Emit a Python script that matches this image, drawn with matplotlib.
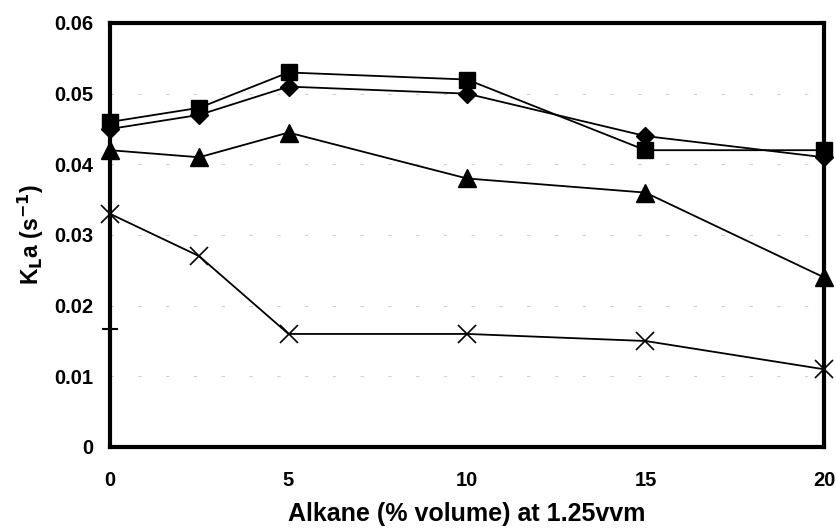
import numpy as np
import matplotlib.pyplot as plt

plt.rcParams['font.family'] = ['Liberation Sans', 'DejaVu Sans']

# Alkane fraction (% volume) and measured KLa values (1/s) at 1.25 vvm
alkane = [0, 2.5, 5, 10, 15, 20]
kla_square = [0.046, 0.048, 0.053, 0.052, 0.042, 0.042]
kla_diamond = [0.045, 0.047, 0.051, 0.050, 0.044, 0.041]
kla_triangle = [0.042, 0.041, 0.0445, 0.038, 0.036, 0.024]
kla_cross = [0.033, 0.027, 0.016, 0.016, 0.015, 0.011]
kla_plus_x = [0]
kla_plus = [0.0167]

fig = plt.figure(figsize=(8.36, 5.30), dpi=100)
ax = fig.add_axes([110/836, 1 - 447/530, (824-110)/836, (447-23)/530])

# faint broken gridlines
for yv in np.arange(0.01, 0.06, 0.01):
    ax.axhline(yv, color='#d0d0d0', lw=0.8, ls=(0, (3, 22)), zorder=0)

kw = dict(color='black', lw=1.3, clip_on=False, zorder=3)
ax.plot(alkane, kla_square, marker='s', ms=12, **kw)
ax.plot(alkane, kla_diamond, marker='D', ms=9, **kw)
ax.plot(alkane, kla_triangle, marker='^', ms=13, **kw)
ax.plot(alkane, kla_cross, marker='x', ms=13, mew=1.2, **kw)
ax.plot(kla_plus_x, kla_plus, marker='+', ms=12, mew=1.5, ls='none',
        color='black', clip_on=False, zorder=3)

ax.set_xlim(0, 20)
ax.set_ylim(0, 0.06)
ax.set_xticks([0, 5, 10, 15, 20])
ax.set_yticks(np.arange(0, 0.061, 0.01))
ax.set_yticklabels(['0', '0.01', '0.02', '0.03', '0.04', '0.05', '0.06'])
ax.tick_params(length=0, labelsize=14.5, pad=12)
for lab in ax.get_xticklabels() + ax.get_yticklabels():
    lab.set_fontweight('bold')
ax.tick_params(axis='x', pad=17)

for sp in ax.spines.values():
    sp.set_linewidth(3)

ax.set_xlabel('Alkane (% volume) at 1.25vvm', fontsize=18, fontweight='bold', labelpad=9)
ax.set_ylabel(r'K$_\mathbf{L}$a (s$^\mathbf{-1}$)', fontsize=16.5, fontweight='bold', labelpad=6)

fig.savefig('out.png', dpi=100)
